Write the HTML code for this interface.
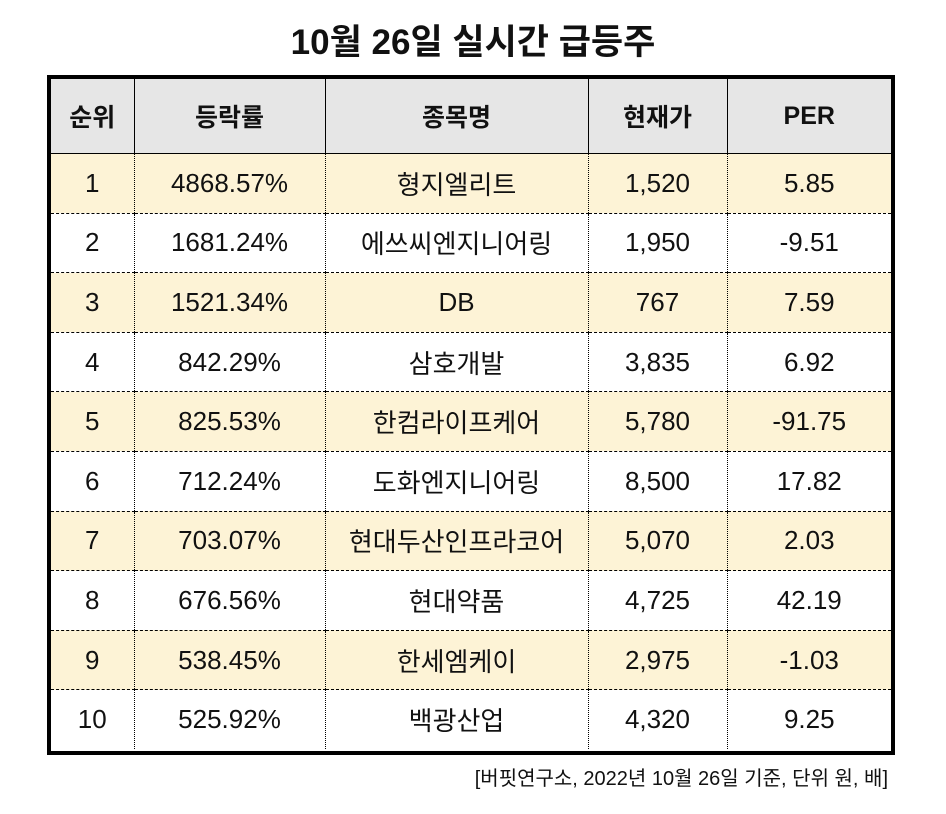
<!DOCTYPE html>
<html><head><meta charset="utf-8">
<style>
body{margin:0;width:946px;height:814px;background:#fff;position:relative;font-family:"Liberation Sans","Noto Sans CJK KR",sans-serif;color:#111;overflow:hidden}
#title{position:absolute;left:0;width:946px;top:14px;text-align:center;font-size:35px;font-weight:bold}
#tbl{position:absolute;left:47px;top:75px;width:840px;height:672px;border:4px solid #000;border-collapse:collapse}
table{border-collapse:collapse;table-layout:fixed;width:840px}
td,th{text-align:center;padding:0;font-size:26px;font-weight:normal}
th{background:#e6e6e6;height:74px;border-left:1.5px solid #000;border-bottom:1.5px solid #000;font-weight:bold;font-size:25px}
th:first-child,td:first-child{border-left:none}
td{height:58.6px;border-left:1.5px dotted #000;border-top:1.5px dashed #000}
tr.h td{background:#fdf3d6}
tr:nth-child(2) td{border-top:none}
#note{position:absolute;right:58px;top:762px;font-size:20px}
</style></head><body>
<div id="title">10월 26일 실시간 급등주</div>
<div id="tbl">
<table>
<colgroup><col style="width:83px"><col style="width:191px"><col style="width:263px"><col style="width:139px"><col style="width:164px"></colgroup>
<tr><th>순위</th><th>등락률</th><th>종목명</th><th>현재가</th><th>PER</th></tr>
<tr class="h"><td>1</td><td>4868.57%</td><td>형지엘리트</td><td>1,520</td><td>5.85</td></tr>
<tr><td>2</td><td>1681.24%</td><td>에쓰씨엔지니어링</td><td>1,950</td><td>-9.51</td></tr>
<tr class="h"><td>3</td><td>1521.34%</td><td>DB</td><td>767</td><td>7.59</td></tr>
<tr><td>4</td><td>842.29%</td><td>삼호개발</td><td>3,835</td><td>6.92</td></tr>
<tr class="h"><td>5</td><td>825.53%</td><td>한컴라이프케어</td><td>5,780</td><td>-91.75</td></tr>
<tr><td>6</td><td>712.24%</td><td>도화엔지니어링</td><td>8,500</td><td>17.82</td></tr>
<tr class="h"><td>7</td><td>703.07%</td><td>현대두산인프라코어</td><td>5,070</td><td>2.03</td></tr>
<tr><td>8</td><td>676.56%</td><td>현대약품</td><td>4,725</td><td>42.19</td></tr>
<tr class="h"><td>9</td><td>538.45%</td><td>한세엠케이</td><td>2,975</td><td>-1.03</td></tr>
<tr><td>10</td><td>525.92%</td><td>백광산업</td><td>4,320</td><td>9.25</td></tr>
</table>
</div>
<div id="note">[버핏연구소, 2022년 10월 26일 기준, 단위 원, 배]</div>
</body></html>
